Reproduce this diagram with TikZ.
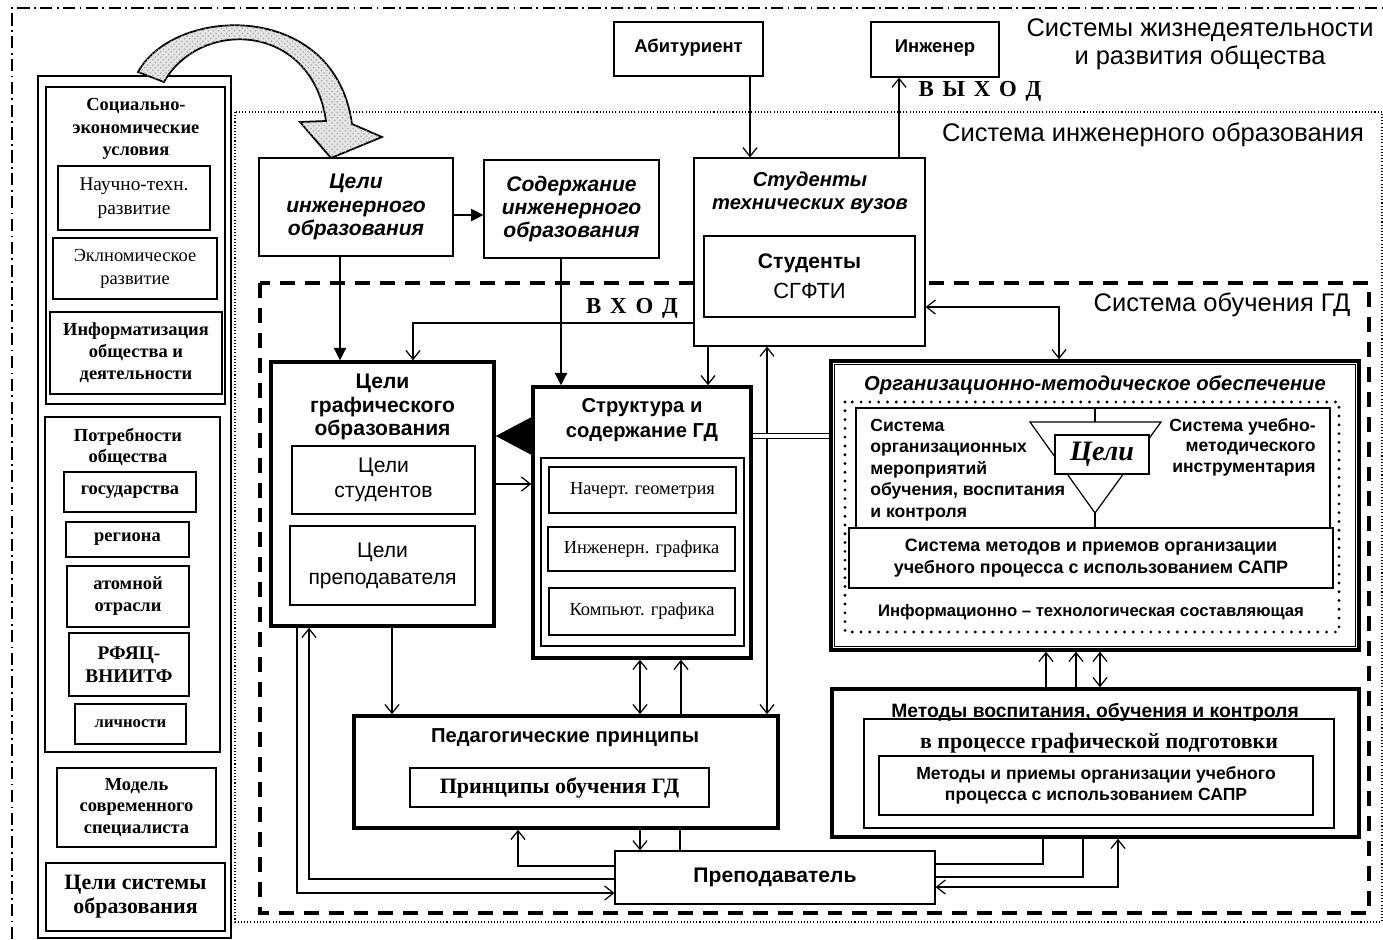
\documentclass[tikz,border=0pt]{standalone}
\usepackage{fontspec}
\setmainfont{Liberation Serif}
\setsansfont{Liberation Sans}
\usetikzlibrary{arrows.meta,patterns}
\newlength\pu
\setlength\pu{0.02cm}
\newcommand\fsz[2]{\fontsize{#1}{#2}\selectfont}

\begin{document}
\begin{tikzpicture}[x=1\pu, y=-1\pu,
    box/.style={draw, line width=0.7pt, fill=white, inner sep=1pt, align=center},
    thickbox/.style={box, line width=2pt},
    lbl/.style={inner sep=0pt, align=center},
    conn/.style={line width=0.7pt},
    arr/.style={conn, -{Straight Barb[length=5pt,width=8pt]}},
    darr/.style={conn, {Straight Barb[length=5pt,width=8pt]}-{Straight Barb[length=5pt,width=8pt]}},
    farr/.style={conn, -{Triangle[length=7pt,width=7pt]}}]
    \useasboundingbox (0,0) rectangle (1383,940);

    % system frames
    \draw[line width=0.6pt, dash pattern=on 7pt off 2.5pt on 1pt off 2.5pt] (1400,8) -- (12,8) -- (12,960);
    \draw[line width=0.9pt, dash pattern=on 0.6pt off 1.2pt] (235,112) rectangle (1382,922);
    \draw[line width=2pt, dash pattern=on 8.5pt off 5.7pt] (260,283) rectangle (1369,913);
    \node[lbl, font=\sffamily\fsz{14.5}{15.9}] (sysz) at (1200,44) {Системы жизнедеятельности\\и развития общества};
    \node[lbl, font=\sffamily\fsz{14.5}{16}] (sysi) at (1153,135) {Система инженерного образования};
    \node[lbl, font=\sffamily\fsz{14.5}{16}] (sysgd) at (1222,305) {Система обучения ГД};

    % left column
    \node[box, minimum width=193\pu, minimum height=862\pu] (left) at (134.5,507) {};
    \node[box, minimum width=179\pu, minimum height=317\pu] (soc) at (135.5,245.5) {};
    \node[lbl, font=\bfseries\fsz{10.5}{13}] (soct) at (136,129) {Социально-\\экономические\\условия};
    \node[box, minimum width=152\pu, minimum height=64\pu, font=\fsz{11}{13.6}] (nauch) at (134,198) {Научно-техн.\\развитие};
    \node[box, minimum width=164\pu, minimum height=61\pu, font=\fsz{10.5}{13}] (ekon) at (135,268.5) {Эклномическое\\развитие};
    \node[box, minimum width=172\pu, minimum height=82\pu, font=\bfseries\fsz{10.5}{12.5}] (inform) at (136,353) {Информатизация\\общества и\\деятельности};
    \node[box, minimum width=175\pu, minimum height=335\pu] (potr) at (132.5,584.5) {};
    \node[lbl, font=\bfseries\fsz{10.5}{12.5}] (potrt) at (128,447) {Потребности\\общества};
    \node[box, minimum width=132\pu, minimum height=40\pu, font=\bfseries\fsz{10.5}{12.5}] (gos) at (130,492) {государства};
    \node[box, minimum width=123\pu, minimum height=35\pu, font=\bfseries\fsz{10.5}{12.5}] (reg) at (127.5,539.5) {региона};
    \node[box, minimum width=122\pu, minimum height=61\pu, font=\bfseries\fsz{10.5}{12.5}] (atom) at (128,596.5) {атомной\\отрасли};
    \node[box, minimum width=120\pu, minimum height=63\pu, font=\bfseries\fsz{11}{13}] (rfyac) at (129,664.5) {РФЯЦ-\\ВНИИТФ};
    \node[box, minimum width=111\pu, minimum height=40\pu, font=\bfseries\fsz{9.5}{11}] (lichn) at (130.5,724) {личности};
    \node[box, minimum width=159\pu, minimum height=79\pu, font=\bfseries\fsz{10.5}{12}] (model) at (136.5,807.5) {Модель\\современного\\специалиста};
    \node[box, minimum width=179\pu, minimum height=68\pu, font=\bfseries\fsz{12.5}{13.6}] (celisys) at (135.5,897) {Цели системы\\образования};

    % curved arrow to the goals
    \draw[line width=1pt, fill=gray!20, postaction={pattern=crosshatch dots, pattern color=gray!70}]
        (138,72) .. controls (175,5) and (335,0) .. (352,124)
        -- (382,137) -- (331,158) -- (300,122) -- (326,121)
        .. controls (312,22) and (200,18) .. (164,82) -- cycle;

    % engineering education
    \node[box, minimum width=149\pu, minimum height=54\pu] (abit) at (688.5,49) {\raisebox{6\pu}{\sffamily\bfseries\fsz{10.5}{12}Абитуриент}};
    \node[box, minimum width=128\pu, minimum height=55\pu] (inzh) at (935,49.5) {\raisebox{6\pu}{\sffamily\bfseries\fsz{10.5}{12}Инженер}};
    \node[lbl, font=\bfseries\fsz{13}{14}] (vyhod) at (980,91) {В\hspace{5pt}Ы\hspace{5pt}Х\hspace{5pt}О\hspace{5pt}Д};
    \node[box, minimum width=194\pu, minimum height=98\pu, font=\sffamily\bfseries\itshape\fsz{12}{13.3}] (celiinzh) at (356,207) {Цели\\инженерного\\образования};
    \node[box, minimum width=175\pu, minimum height=98\pu, font=\sffamily\bfseries\itshape\fsz{12}{13.3}] (soderzh) at (571.5,209) {Содержание\\инженерного\\образования};
    \node[box, minimum width=231\pu, minimum height=188\pu] (stud) at (809.5,252) {};
    \node[lbl, font=\sffamily\bfseries\itshape\fsz{11.5}{13.3}] (studt) at (810,193) {Студенты\\технических вузов};
    \node[box, minimum width=211\pu, minimum height=81\pu, font=\sffamily\fsz{12}{17}] (studsg) at (809.5,276.5) {\textbf{Студенты}\\{\fsz{12.5}{17}СГФТИ}};
    \node[lbl, font=\bfseries\fsz{13}{14}] (vhod) at (632,308) {В\hspace{5pt}Х\hspace{5pt}О\hspace{5pt}Д};

    % graphic discipline
    \node[thickbox, minimum width=223\pu, minimum height=264\pu] (celigr) at (382.5,494) {};
    \node[lbl, font=\sffamily\bfseries\fsz{12}{13.3}] (celigrt) at (382.5,407) {Цели\\графического\\образования};
    \node[box, minimum width=183\pu, minimum height=68\pu, font=\sffamily\fsz{12}{14.7}] (celistud) at (383.5,480) {Цели\\студентов};
    \node[box, minimum width=185\pu, minimum height=79\pu, font=\sffamily\fsz{12}{15.3}] (celiprep) at (382.5,565.5) {Цели\\преподавателя};
    \node[thickbox, minimum width=218\pu, minimum height=271\pu] (strukt) at (642,522.5) {};
    \node[lbl, font=\sffamily\bfseries\fsz{11.5}{14.2}] (struktt) at (642,420) {Структура и\\содержание ГД};
    \node[box, minimum width=203\pu, minimum height=188\pu] (struktin) at (642.5,552) {};
    \node[box, minimum width=187\pu, minimum height=46\pu, font=\fsz{10.5}{12}] (nacher) at (642.5,490) {Начерт. геометрия};
    \node[box, minimum width=187\pu, minimum height=44\pu, font=\fsz{10.5}{12}] (inzhgr) at (641.5,549) {Инженерн. графика};
    \node[box, minimum width=186\pu, minimum height=47\pu, font=\fsz{10.5}{12}] (komp) at (642,611.5) {Компьют. графика};

    % organisational support
    \node[thickbox, minimum width=528\pu, minimum height=289\pu] (org) at (1095,505.5) {};
    \draw[line width=0.6pt] ([shift={(5,5)}]org.north west) rectangle ([shift={(-5,-5)}]org.south east);
    \node[lbl, font=\sffamily\bfseries\itshape\fsz{11.5}{13}] (orgt) at (1095,385) {Организационно-методическое обеспечение};
    \draw[line width=1.8pt, line cap=round, dash pattern=on 0pt off 5pt] (845,402) rectangle (1339,632);
    \node[box, minimum width=474\pu, minimum height=125\pu] (orgin) at (1093,470.5) {};
    \coordinate (ftop) at (1095,422);
    \coordinate (fbot) at (1095,513);
    \draw[conn] (1030,422) -- (1161,422) -- (fbot) -- cycle;
    \draw[conn] (orgin.north -| ftop) -- (ftop);
    \node[box, minimum width=94\pu, minimum height=39\pu, font=\bfseries\itshape\fsz{16}{18}] (celi) at (1102,454.5) {Цели};
    \node[lbl, anchor=west, align=left, font=\sffamily\bfseries\fsz{10}{12.2}] (orgsys) at (870,470) {Система\\организационных\\мероприятий\\обучения, воспитания\\и контроля};
    \node[lbl, anchor=east, align=right, font=\sffamily\bfseries\fsz{10}{11.6}] (uchsys) at (1316,447) {Система учебно-\\методического\\инструментария};
    \node[box, minimum width=484\pu, minimum height=60\pu, font=\sffamily\bfseries\fsz{10.2}{12.5}] (metsys) at (1091,558) {Система методов и приемов организации\\учебного процесса с использованием САПР};
    \draw[conn] (fbot) -- (metsys.north -| fbot);
    \node[lbl, font=\sffamily\bfseries\fsz{9.5}{11}] (info) at (1091,612) {Информационно -- технологическая составляющая};

    % methods
    \node[thickbox, minimum width=527\pu, minimum height=148\pu] (metody) at (1095.5,763) {};
    \node[box, minimum width=470\pu, minimum height=109\pu] (metmid) at (1099,773.5) {};
    \node[lbl, font=\sffamily\bfseries\fsz{11}{12}] (metodyt) at (1095,712) {Методы воспитания, обучения и контроля};
    \node[lbl, font=\bfseries\fsz{12.5}{13}] (metmidt) at (1099,743) {в процессе графической подготовки};
    \node[box, line width=1.3pt, minimum width=434\pu, minimum height=59\pu, font=\sffamily\bfseries\fsz{10}{12}] (metin) at (1096,785.5) {Методы и приемы организации учебного\\процесса с использованием САПР};

    % pedagogy and teacher
    \node[thickbox, minimum width=424\pu, minimum height=112\pu] (ped) at (566,772) {};
    \node[lbl, font=\sffamily\bfseries\fsz{11.5}{13}] (pedt) at (565,738) {Педагогические принципы};
    \node[box, minimum width=299\pu, minimum height=39\pu, font=\bfseries\fsz{12.5}{13}] (pedin) at (559.5,787.5) {Принципы обучения ГД};
    \node[box, minimum width=320\pu, minimum height=53\pu, font=\sffamily\bfseries\fsz{12}{13}] (prep) at (775,877.5) {Преподаватель};

    % connectors
    \draw[arr] (750,0 |- abit.south) -- (750,0 |- stud.north);
    \draw[arr] (899,0 |- stud.north) -- (899,0 |- inzh.south);
    \draw[farr] (0,215 -| celiinzh.east) -- (0,215 -| soderzh.west);
    \draw[farr] (340,0 |- celiinzh.south) -- (340,0 |- celigr.north);
    \draw[farr] (561,0 |- soderzh.south) -- (561,0 |- strukt.north);
    \draw[arr] (stud.west |- 0,323) -| (413,0 |- celigr.north);
    \draw[arr] (708,0 |- stud.south) -- (708,0 |- strukt.north);
    \draw[darr] (767,0 |- stud.south) -- (767,0 |- ped.north);
    \draw[darr] (stud.east |- 0,307) -| (1059,0 |- org.north);
    \draw[conn, -{Triangle[length=20pt,width=21pt]}] (strukt.west |- 0,436) -- (celigr.east |- 0,436);
    \draw[arr] (celigr.east |- 0,484) -- (strukt.west |- 0,484);
    \draw[double, double distance=2pt, line width=0.6pt] (strukt.east |- 0,436) -- (org.west |- 0,436);
    \draw[arr] (392,0 |- celigr.south) -- (392,0 |- ped.north);
    \draw[darr] (640,0 |- strukt.south) -- (640,0 |- ped.north);
    \draw[arr] (681,0 |- ped.north) -- (681,0 |- strukt.south);
    \draw[arr] (1046,0 |- metody.north) -- (1046,0 |- org.south);
    \draw[arr] (1076,0 |- metody.north) -- (1076,0 |- org.south);
    \draw[darr] (1100,0 |- metody.north) -- (1100,0 |- org.south);
    \draw[arr] (640,0 |- ped.south) -- (640,0 |- prep.north);
    \draw[conn] (680,0 |- prep.north) -- (680,0 |- ped.south);
    \draw[arr] (prep.west |- 0,866) -| (518,0 |- ped.south);
    \draw[arr] (prep.west |- 0,879) -| (309,0 |- celigr.south);
    \draw[arr] (297,0 |- celigr.south) |- (prep.west |- 0,893);
    \draw[conn] (1043,0 |- metody.south) |- (prep.east |- 0,864);
    \draw[conn] (1083,0 |- metody.south) |- (prep.east |- 0,877);
    \draw[darr] (1118,0 |- metody.south) |- (prep.east |- 0,887);
\end{tikzpicture}
\end{document}
